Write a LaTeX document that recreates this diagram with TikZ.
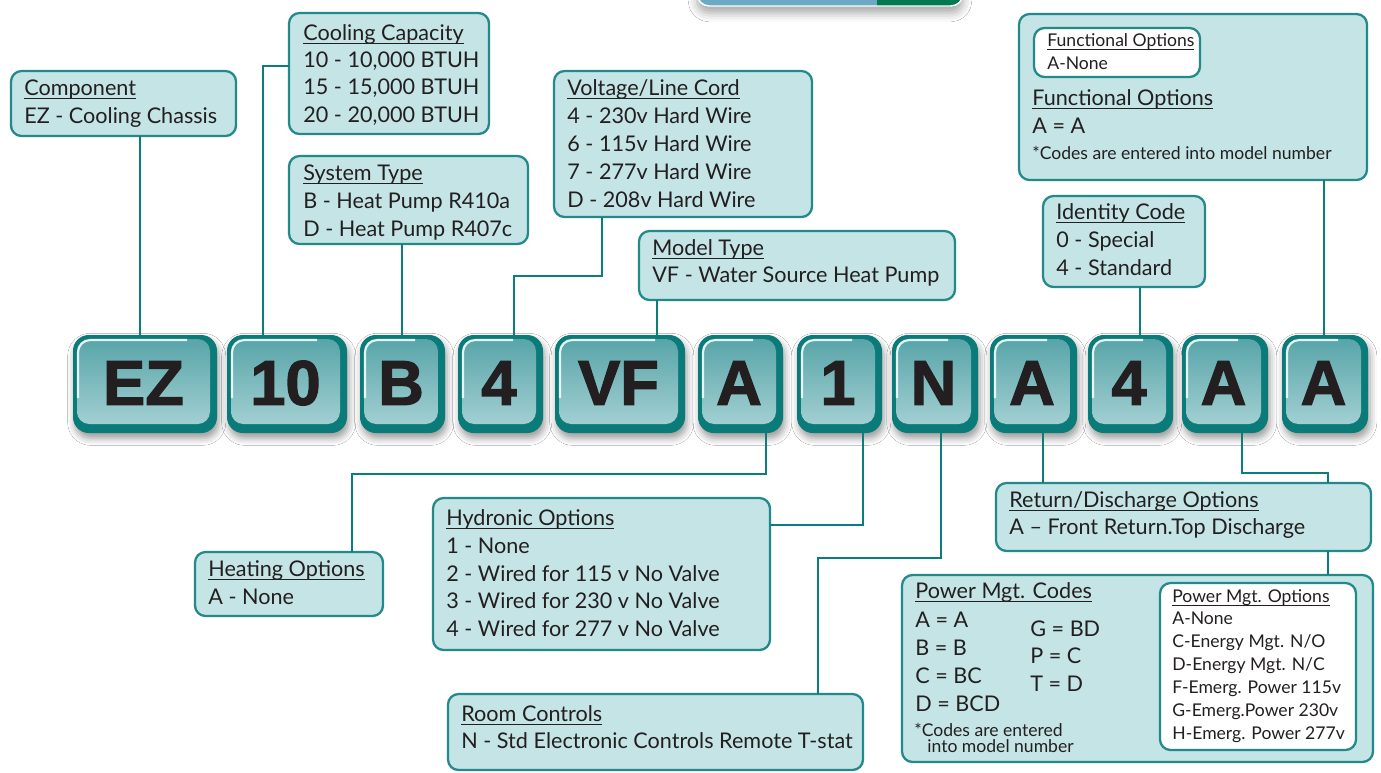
\documentclass[tikz,border=0pt]{standalone}
\usepackage{fontspec}
\setmainfont{Lato}
\newfontfamily\tilefont{Liberation Sans}[BoldFeatures={FakeBold=2}]
\usetikzlibrary{calc,shadows.blur}
\definecolor{cfill}{HTML}{C4E4E6}
\definecolor{cborder}{HTML}{24898A}
\definecolor{cline}{HTML}{0B7D7A}
\definecolor{ctext}{HTML}{231F20}
\definecolor{tdark}{HTML}{0A7B78}
\definecolor{ttop}{HTML}{58A5A9}
\definecolor{tbot}{HTML}{A2CFD2}
\definecolor{barblue}{HTML}{6CA9C5}
\definecolor{bargreen}{HTML}{007A4E}
\newcounter{tln}
\newcommand\ulx[1]{\leavevmode\setbox0\hbox{#1}\rlap{\rule[-2.2pt]{\wd0}{0.7pt}}\box0}
\newcommand\bx[6][box]{\node[#1, minimum width={(#5-#3)*0.02cm}, minimum height={(#6-#4)*0.02cm}, anchor=north west] (#2) at (#3,#4) {};}
\newcommand\tl[4][]{\stepcounter{tln}\node[txt,#1] (L\thetln) at (#2,#3) {#4};}
\newcommand\tile[4]{%
 \node[tileout, minimum width={(#3-#2)*0.02cm}, anchor=north west] (#1) at (#2,335) {};
 \shade[tileface] ($(#1.north west)+(4,4)$) rectangle ($(#1.south east)+(-7,-9)$);
 \draw[tilehi] ($(#1.south west)+(5,-35)$) -- ($(#1.north west)+(5,5)$) -- ($(#1.north east)+(-30,5)$);
 \node[tiletxt] (#1-t) at ($(#1.center)+(-1.5,-1)$) {#4};}
\tikzset{
 box/.style={draw=cborder, line width=1.3pt, fill=cfill, rounded corners=6pt, inner sep=0pt, outer sep=0pt},
 wbox/.style={box, fill=white},
 conn/.style={draw=cline, line width=1.6pt},
 txt/.style={anchor=base west, inner sep=0pt, text=ctext, font=\fontsize{12.3}{15}\selectfont},
 stxt/.style={font=\fontsize{10}{12}\selectfont},
 tileout/.style={fill=tdark, rounded corners=9pt, minimum height={98*0.02cm}, inner sep=0pt, outer sep=0pt,
   blur shadow={shadow xshift=1pt, shadow yshift=-3pt, shadow blur radius=4pt, shadow opacity=40}},
 tileface/.style={top color=ttop, bottom color=tbot, rounded corners=7pt},
 tilehi/.style={draw=white, line width=1.2pt, rounded corners=7pt, opacity=0.85},
 tiletxt/.style={text=ctext, font=\tilefont\bfseries\fontsize{36}{36}\selectfont, inner sep=0pt}
}
\begin{document}
\begin{tikzpicture}[x=0.02cm, y=-0.02cm]
\useasboundingbox (0,0) rectangle (1381,772);
\fill[white] (0,0) rectangle (1381,772);
% top partial bar
\node[fill=barblue, rounded corners=7pt, minimum width={266*0.02cm}, minimum height={26*0.02cm}, anchor=south west, inner sep=0pt, outer sep=0pt,
  blur shadow={shadow xshift=0pt, shadow yshift=-4pt, shadow blur radius=5pt, shadow opacity=35}] (topbar) at (697,6) {};
\begin{scope}
\clip ($(topbar.south west)+(180,2)$) rectangle ($(topbar.north east)+(2,-2)$);
\fill[bargreen, rounded corners=7pt] (topbar.south west) rectangle (topbar.north east);
\end{scope}
\draw[white, line width=0.8pt, rounded corners=7pt] (topbar.north west) -- (topbar.south west) -- (topbar.south east) -- (topbar.north east);

% boxes
\bx{comp}{11}{71}{236}{136}
\bx{cool}{289}{13}{489}{134}
\bx{sys}{289}{156}{528}{244}
\bx{volt}{554}{71}{812}{217}
\bx{model}{639}{231}{955}{300}
\bx{func}{1019}{14}{1367}{180}
\bx[wbox]{funcin}{1034}{28}{1200}{77}
\bx{ident}{1043}{196}{1205}{287}
\bx{heat}{195}{552}{383}{616}
\bx{hydro}{433}{498}{770}{650}
\bx{room}{448}{694}{863}{770}
\bx{ret}{996}{483}{1371}{551}
\bx{power}{902}{575}{1373}{762}
\bx[wbox]{powin}{1160}{583}{1356}{750}

% tiles
\tile{tEZ}{73}{217}{EZ}
\tile{t10}{227}{347}{10}
\tile{tB}{360}{445}{B}
\tile{t4a}{458}{543}{4}
\tile{tVF}{555}{685}{VF}
\tile{tA1}{698}{783}{A}
\tile{t1}{797}{882}{1}
\tile{tN}{892}{978}{N}
\tile{tA2}{990}{1077}{A}
\tile{t4b}{1088}{1173}{4}
\tile{tA4}{1182}{1268}{A}
\tile{tA5}{1282}{1368}{A}

% connectors
\draw[conn] ($(comp.south west)+(129,0)$) -- ($(tEZ.north west)+(67,0)$);
\draw[conn] ($(cool.north west)+(0,53)$) -| ($(t10.north west)+(36,0)$);
\draw[conn] ($(sys.south west)+(113,0)$) -- ($(tB.north west)+(42,0)$);
\draw[conn] ($(volt.south west)+(48,0)$) |- ($(t4a.north west)+(56,-59)$) -- ($(t4a.north west)+(56,0)$);
\draw[conn] ($(model.south west)+(18,0)$) -- ($(tVF.north west)+(102,0)$);
\draw[conn] ($(ident.south west)+(97,0)$) -- ($(t4b.north west)+(52,0)$);
\draw[conn] ($(func.south west)+(305,0)$) -- ($(tA5.north west)+(42,0)$);
\draw[conn] ($(tA1.south west)+(68,0)$) |- ($(heat.north west)+(157,-78)$) -- ($(heat.north west)+(157,0)$);
\draw[conn] ($(t1.south west)+(66,0)$) |- ($(hydro.north east)+(0,27)$);
\draw[conn] ($(tN.south west)+(49,0)$) |- ($(room.north west)+(370,-136)$) -- ($(room.north west)+(370,0)$);
\draw[conn] ($(tA2.south west)+(53,0)$) -- ($(ret.north west)+(47,0)$);
\draw[conn] ($(tA4.south west)+(60,0)$) |- ($(ret.north west)+(332,-10)$) -- ($(ret.north west)+(332,0)$);
\draw[conn] ($(ret.south west)+(332,0)$) -- ($(power.north west)+(426,0)$);

% texts
\tl{24}{95}{\ulx{Component}}
\tl{24}{123}{EZ - Cooling Chassis}
\tl{303}{40}{\ulx{Cooling Capacity}}
\tl{303}{67}{10 - 10,000 BTUH}
\tl{303}{94}{15 - 15,000 BTUH}
\tl{303}{122}{20 - 20,000 BTUH}
\tl{303}{180}{\ulx{System Type}}
\tl{303}{208}{B - Heat Pump R410a}
\tl{303}{236}{D - Heat Pump R407c}
\tl{567}{95}{\ulx{Voltage/Line Cord}}
\tl{567}{123}{4 - 230v Hard Wire}
\tl{567}{151}{6 - 115v Hard Wire}
\tl{567}{179}{7 - 277v Hard Wire}
\tl{567}{207}{D - 208v Hard Wire}
\tl{652}{255}{\ulx{Model Type}}
\tl{652}{282}{VF - Water Source Heat Pump}
\tl[stxt]{1047}{46}{\ulx{Functional Options}}
\tl[stxt]{1047}{69}{A-None}
\tl{1032}{105}{\ulx{Functional Options}}
\tl{1032}{133}{A = A}
\tl[stxt]{1032}{159}{*Codes are entered into model number}
\tl{1056}{219}{\ulx{Identity Code}}
\tl{1056}{247}{0 - Special}
\tl{1056}{275}{4 - Standard}
\tl{208}{576}{\ulx{Heating Options}}
\tl{208}{604}{A - None}
\tl{446}{525}{\ulx{Hydronic Options}}
\tl{446}{553}{1 - None}
\tl{446}{581}{2 - Wired for 115 v No Valve}
\tl{446}{608}{3 - Wired for 230 v No Valve}
\tl{446}{636}{4 - Wired for 277 v No Valve}
\tl{461}{721}{\ulx{Room Controls}}
\tl{461}{748}{N - Std Electronic Controls Remote T-stat}
\tl{1009}{507}{\ulx{Return/Discharge Options}}
\tl{1009}{534}{A -- Front Return.Top Discharge}
\tl{915}{598}{\ulx{Power Mgt. Codes}}
\tl{915}{627}{A = A}
\tl{915}{655}{B = B}
\tl{915}{683}{C = BC}
\tl{915}{711}{D = BCD}
\tl{1030}{636}{G = BD}
\tl{1030}{663}{P = C}
\tl{1030}{691}{T = D}
\tl[stxt]{914}{736}{*Codes are entered}
\tl[stxt]{927}{752}{into model number}
\tl[stxt]{1172}{602}{\ulx{Power Mgt. Options}}
\tl[stxt]{1172}{624}{A-None}
\tl[stxt]{1172}{647}{C-Energy Mgt. N/O}
\tl[stxt]{1172}{670}{D-Energy Mgt. N/C}
\tl[stxt]{1172}{693}{F-Emerg. Power 115v}
\tl[stxt]{1172}{716}{G-Emerg.Power 230v}
\tl[stxt]{1172}{739}{H-Emerg. Power 277v}
\end{tikzpicture}
\end{document}
